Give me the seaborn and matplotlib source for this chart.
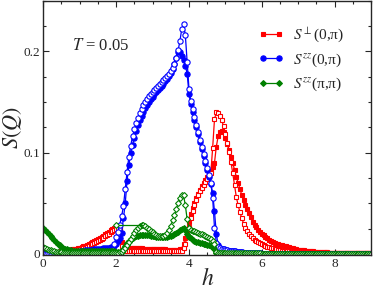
import numpy as np
import pandas as pd
import matplotlib
matplotlib.use("Agg")
import matplotlib.pyplot as plt
import seaborn as sns
from matplotlib.ticker import MultipleLocator

# grid of the field h, step 0.05 from 0 to 9
h = np.round(np.arange(181) * 0.05, 2)

# S_perp(0,pi), filled squares
perp_filled = (
    [0.002] * 10 + [0.003, 0.003, 0.003, 0.004, 0.004, 0.004, 0.005, 0.005, 0.005, 0.006]
    + [0.006, 0.007, 0.008, 0.008, 0.009, 0.010, 0.011, 0.012, 0.013, 0.014,
       0.015, 0.016, 0.017, 0.018, 0.020, 0.021, 0.022, 0.024, 0.025, 0.026]
    + [0.027, 0.028, 0.026, 0.012, 0.007, 0.006, 0.006, 0.006, 0.006, 0.006,
       0.006, 0.0055, 0.0055, 0.0055, 0.0055, 0.005, 0.005, 0.005, 0.005, 0.005]
    + [0.005, 0.005, 0.0048, 0.0047, 0.0046, 0.0045, 0.0045, 0.0044, 0.0043, 0.0042,
       0.0042, 0.004, 0.004, 0.004, 0.004, 0.0045, 0.005, 0.010, 0.016, 0.024]
    + [0.032, 0.039, 0.045, 0.050, 0.055, 0.059, 0.063, 0.067, 0.070, 0.073,
       0.076, 0.079, 0.082, 0.086, 0.090, 0.106, 0.116, 0.120, 0.121, 0.120]
    + [0.115, 0.109, 0.103, 0.096, 0.090, 0.083, 0.076, 0.070, 0.064, 0.058,
       0.053, 0.048, 0.044, 0.040, 0.036, 0.032, 0.029, 0.027, 0.024, 0.022]
    + [0.020, 0.0185, 0.017, 0.0155, 0.014, 0.013, 0.012, 0.011, 0.010, 0.0095,
       0.009, 0.0085, 0.008, 0.0075, 0.007, 0.0065, 0.006, 0.0055, 0.005, 0.0045]
    + [0.004, 0.0038, 0.0036, 0.0034, 0.0032, 0.003, 0.0028, 0.0026, 0.0024, 0.0022,
       0.002, 0.0019, 0.0018, 0.0017, 0.0016, 0.0015, 0.0014, 0.0013, 0.0012, 0.0011]
    + [0.001, 0.001, 0.0009, 0.0009, 0.0008, 0.0008, 0.0007, 0.0007, 0.0006, 0.0006]
    + [0.0005] * 11
)

# S_perp(0,pi), open squares
perp_open = (
    [0.001] * 10 + [0.0015, 0.0015, 0.002, 0.002, 0.0025, 0.0025, 0.003, 0.003, 0.0035, 0.004]
    + [0.0045, 0.005, 0.0055, 0.006, 0.007, 0.008, 0.009, 0.010, 0.011, 0.012,
       0.013, 0.014, 0.015, 0.016, 0.018, 0.019, 0.020, 0.022, 0.023, 0.024]
    + [0.025, 0.026, 0.025, 0.008, 0.004] + [0.003] * 15
    + [0.003, 0.003, 0.0028, 0.0028, 0.0026, 0.0026, 0.0025, 0.0025, 0.0025, 0.0025,
       0.0025, 0.0025, 0.0025, 0.0025, 0.0025, 0.0028, 0.003, 0.006, 0.010, 0.018]
    + [0.027, 0.035, 0.042, 0.048, 0.053, 0.058, 0.062, 0.065, 0.068, 0.071,
       0.074, 0.077, 0.080, 0.105, 0.133, 0.140, 0.139, 0.136, 0.132, 0.126]
    + [0.118, 0.110, 0.101, 0.091, 0.080, 0.068, 0.056, 0.048, 0.041, 0.035,
       0.030, 0.026, 0.023, 0.020, 0.018, 0.016, 0.014, 0.013, 0.012, 0.011]
    + [0.010, 0.009, 0.008, 0.0073, 0.0066, 0.006, 0.0055, 0.005, 0.0045, 0.004,
       0.0036, 0.0033, 0.003, 0.0028, 0.0026, 0.0024, 0.0022, 0.002, 0.0019, 0.0018]
    + [0.0017, 0.0016, 0.0015, 0.0014, 0.0013, 0.0012, 0.0011, 0.001, 0.001, 0.0009,
       0.0009, 0.0008, 0.0008, 0.0007, 0.0007, 0.0006, 0.0006, 0.0005, 0.0005, 0.0005]
    + [0.0004] * 21
)

# S_zz(0,pi), filled circles
zz0_filled = (
    [0.001] * 20
    + [0.003, 0.003, 0.0032, 0.0034, 0.0036, 0.0038, 0.004, 0.0042, 0.0044, 0.0046,
       0.0048, 0.005, 0.0052, 0.0054, 0.0056, 0.0058, 0.006, 0.0065, 0.007, 0.008]
    + [0.010, 0.013, 0.016, 0.021, 0.035, 0.050, 0.072, 0.088, 0.100, 0.108,
       0.115, 0.121, 0.127, 0.132, 0.136, 0.140, 0.144, 0.147, 0.150, 0.153]
    + [0.155, 0.158, 0.160, 0.162, 0.164, 0.166, 0.168, 0.171, 0.173, 0.176,
       0.179, 0.183, 0.188, 0.194, 0.199, 0.199, 0.196, 0.192, 0.186, 0.178]
    + [0.158, 0.148, 0.140, 0.132, 0.125, 0.118, 0.111, 0.104, 0.097, 0.090,
       0.083, 0.076, 0.069, 0.060, 0.042, 0.020, 0.009, 0.006, 0.005, 0.0045]
    + [0.004, 0.0035, 0.003, 0.003, 0.0025, 0.0025, 0.002, 0.002, 0.0015, 0.0015,
       0.001] + [0.0005] * 9
    + [0.0] * 61
)

# S_zz(0,pi), open circles
zz0_open = (
    [0.0] * 20
    + [0.0] * 18 + [0.004, 0.010]
    + [0.017, 0.022, 0.029, 0.037, 0.047, 0.064, 0.081, 0.096, 0.107, 0.116,
       0.123, 0.129, 0.134, 0.139, 0.143, 0.147, 0.150, 0.153, 0.156, 0.158]
    + [0.160, 0.162, 0.164, 0.166, 0.168, 0.170, 0.172, 0.174, 0.176, 0.178,
       0.181, 0.184, 0.188, 0.194, 0.201, 0.210, 0.222, 0.227, 0.216, 0.190]
    + [0.163, 0.151, 0.143, 0.135, 0.127, 0.120, 0.113, 0.106, 0.099, 0.092,
       0.085, 0.078, 0.070, 0.055, 0.026, 0.011, 0.007, 0.006, 0.005, 0.0045]
    + [0.004, 0.0035, 0.003, 0.003, 0.0025, 0.0025, 0.002, 0.002, 0.0015, 0.0015,
       0.001] + [0.0005] * 9
    + [0.0] * 61
)

# S_zz(pi,pi), filled diamonds
zzpi_filled = (
    [0.026, 0.024, 0.022, 0.020, 0.018, 0.016, 0.014, 0.012, 0.010, 0.0085,
     0.007, 0.006, 0.005, 0.0045, 0.004, 0.0035, 0.003, 0.003, 0.003, 0.003]
    + [0.003] * 10 + [0.0025] * 10
    + [0.002, 0.002, 0.002, 0.003, 0.005, 0.008, 0.011, 0.013, 0.015, 0.016,
       0.017, 0.0175, 0.018, 0.0185, 0.019, 0.019, 0.019, 0.0188, 0.0185, 0.018]
    + [0.0178, 0.0175, 0.017, 0.0168, 0.0165, 0.0165, 0.0165, 0.0167, 0.017, 0.0175,
       0.018, 0.019, 0.0195, 0.0205, 0.022, 0.0235, 0.025, 0.0255, 0.024, 0.020]
    + [0.0165, 0.0155, 0.014, 0.013, 0.012, 0.0115, 0.011, 0.0105, 0.010, 0.0095,
       0.009, 0.0085, 0.0075, 0.0065, 0.005, 0.001] + [0.0005] * 4
    + [0.0] * 81
)

# S_zz(pi,pi), open diamonds
zzpi_open = (
    [0.007, 0.006, 0.005, 0.004, 0.0035, 0.003, 0.0025, 0.002, 0.002, 0.0015,
     0.0015] + [0.001] * 9
    + [0.001] * 20
    + [0.001, 0.001, 0.0015, 0.002, 0.004, 0.006, 0.009, 0.012, 0.015, 0.018,
       0.021, 0.024, 0.026, 0.028, 0.0288, 0.0285, 0.0275, 0.026, 0.0245, 0.023]
    + [0.0215, 0.020, 0.019, 0.018, 0.0175, 0.0175, 0.018, 0.019, 0.021, 0.024,
       0.028, 0.033, 0.038, 0.044, 0.050, 0.055, 0.058, 0.058, 0.048, 0.034]
    + [0.026, 0.024, 0.023, 0.0225, 0.022, 0.021, 0.020, 0.0195, 0.019, 0.018,
       0.017, 0.016, 0.015, 0.013, 0.010, 0.002, 0.001, 0.001, 0.001, 0.001]
    + [0.001] * 20
    + [0.0] * 61
)

# stray flat segment of the open green curve
zzpi_jump_h = [2.0, 2.7]
zzpi_jump = [0.0285, 0.0285]

labels = [r"$S^{\perp}$(0,π)", r"$S^{zz}$(0,π)", r"$S^{zz}$(π,π)"]

all_series = [perp_filled, perp_open, zz0_filled, zz0_open, zzpi_filled, zzpi_open]
assert all(len(s) == len(h) for s in all_series), [len(s) for s in all_series]

sns.set_style("ticks")
plt.rcParams["font.family"] = ["Liberation Serif", "DejaVu Serif"]
plt.rcParams["mathtext.fontset"] = "stix"

fig = plt.figure(figsize=(3.73, 2.90), dpi=100)
ax = fig.add_axes([0.116, 0.121, 0.879, 0.876])

series = [
    (perp_filled, "#ff0000", "s", True, labels[0]),
    (perp_open, "#ff0000", "s", False, None),
    (zz0_filled, "#0000ff", "o", True, labels[1]),
    (zz0_open, "#0000ff", "o", False, None),
    (zzpi_filled, "#008000", "D", True, labels[2]),
    (zzpi_open, "#008000", "D", False, None),
]
msize = {"s": 3.4, "o": 3.8, "D": 3.0}

for vals, col, mk, filled, lab in series:
    kw = {} if lab is None else {"label": lab}
    sns.lineplot(
        x=h, y=vals, ax=ax, color=col, estimator=None, sort=False,
        marker=mk, markersize=msize[mk],
        markerfacecolor=col if filled else "white",
        markeredgecolor=col, markeredgewidth=0.8, linewidth=0.9,
        **kw)

sns.lineplot(x=zzpi_jump_h, y=zzpi_jump, ax=ax, color="#008000", estimator=None,
             marker="D", markersize=3.0, markevery=[0], markerfacecolor="white",
             markeredgecolor="#008000", markeredgewidth=0.8, linewidth=0.9)

ax.set_xlim(0, 9)
ax.set_ylim(-0.001, 0.25)
ax.xaxis.set_major_locator(MultipleLocator(2))
ax.xaxis.set_minor_locator(MultipleLocator(0.5))
ax.yaxis.set_major_locator(MultipleLocator(0.1))
ax.yaxis.set_minor_locator(MultipleLocator(0.025))
ax.xaxis.set_major_formatter(plt.FuncFormatter(lambda v, p: f"{v:g}"))
ax.yaxis.set_major_formatter(plt.FuncFormatter(lambda v, p: f"{v:g}"))
ax.tick_params(which="both", direction="in", top=True, right=True,
               labelsize=9.5, pad=2, width=0.8)
ax.tick_params(which="major", length=4)
ax.tick_params(which="minor", length=2.2)
for sp in ax.spines.values():
    sp.set_linewidth(1.0)

ax.set_xlabel(r"$h$", fontsize=17, labelpad=-1)
ax.set_ylabel(r"$S(Q)$", fontsize=16, labelpad=0)
ax.text(0.088, 0.805, r"$T$ = 0.05", transform=ax.transAxes, fontsize=12)

ax.legend(loc="upper left", bbox_to_anchor=(0.655, 0.905), numpoints=2,
          handlelength=1.7, handletextpad=0.6, labelspacing=0.45,
          borderpad=0, borderaxespad=0, frameon=False, fontsize=11)

fig.savefig("out.png", dpi=100)
